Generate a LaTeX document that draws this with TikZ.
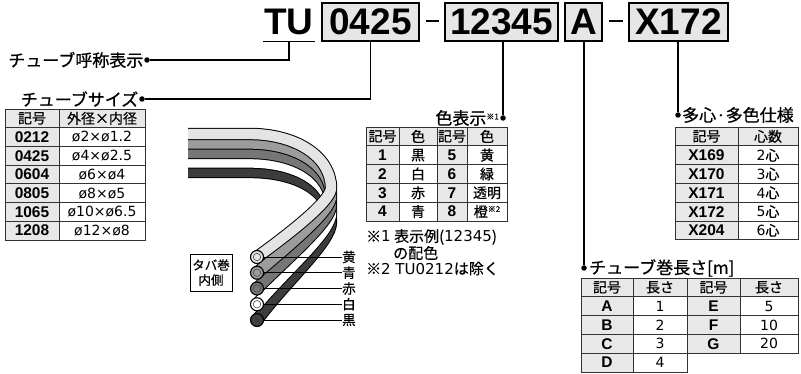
\documentclass[tikz,border=0pt]{standalone}
\usepackage{fontspec}
\setmainfont{Noto Sans CJK JP}
\newfontfamily\codefont{Liberation Sans}
\newfontfamily\numfont{DejaVu Sans}
\newfontfamily\jpH{Noto Sans CJK JP}[FakeBold=0.8]
\newfontfamily\jpT{Noto Sans CJK JP}[FakeBold=0.4]
\definecolor{boxgray}{HTML}{E6E6E6}
\definecolor{cellgray}{HTML}{E8E8E8}
\definecolor{gridc}{HTML}{333333}
\definecolor{tubeY}{HTML}{E4E4E4}
\definecolor{tubeB}{HTML}{9C9C9C}
\definecolor{tubeR}{HTML}{767676}
\definecolor{tubeK}{HTML}{3C3C3C}
\newcommand\tcell[7]{\node[#6, minimum width={(#3)-(#2)}, minimum height={(#5)-(#4)}] (#1) at ({((#2)+(#3))/2},{((#4)+(#5))/2}) {#7};}
\newcommand\supmark[1]{\raisebox{5pt}{\fontsize{8}{8}\selectfont #1}}
\newcommand\nm[1]{{\numfont #1}}
\tikzset{
 cellbase/.style={draw=gridc, line width=0.9pt, inner sep=0pt, outer sep=0pt, anchor=center},
 hdcell/.style={cellbase, fill=cellgray, font=\jpT\fontsize{14}{14}\selectfont},
 codecell/.style={cellbase, fill=cellgray, font=\codefont\bfseries\fontsize{15.5}{15.5}\selectfont},
 valcell/.style={cellbase, fill=white, font=\jpT\fontsize{14}{14}\selectfont},
 numcell/.style={cellbase, fill=white, font=\numfont\fontsize{14}{14}\selectfont},
 heading/.style={inner sep=0pt, font=\jpH\fontsize{17}{17}\selectfont},
 notetext/.style={inner sep=0pt, anchor=west, font=\jpT\fontsize{15}{15}\selectfont},
 jdot/.style={circle, fill=black, inner sep=0pt, minimum size=5.5pt},
 conn/.style={line width=1.1pt},
 tbox/.style={draw, line width=1.2pt, fill=boxgray, inner sep=0pt, minimum height=38pt, font=\codefont\bfseries\fontsize{37}{37}\selectfont},
 endc/.style={circle, draw=black, line width=1.1pt, inner sep=0pt, minimum size=13pt},
 borec/.style={circle, draw=black!70, line width=0.6pt, inner sep=0pt, minimum size=7.5pt},
 tubelab/.style={inner sep=0pt, anchor=west, font=\jpT\fontsize{13.5}{13.5}\selectfont},
 tagbox/.style={draw, line width=0.7pt, inner sep=0pt, minimum width=42pt, minimum height=37pt, align=center, font=\jpT\fontsize{12.5}{15}\selectfont},
}
\begin{document}
\begin{tikzpicture}[x=1pt,y=-1pt]
\useasboundingbox (0,0) rectangle (801,374);

% ---------- title ----------
\node[tbox, draw=none, fill=none, minimum width=50pt] (TU) at (289,22) {TU};
\draw[line width=1.6pt] (TU.south west) -- (TU.south east);
\node[tbox, minimum width=97pt] (b0425) at (370.5,22) {0425};
\node[tbox, minimum width=113pt] (b12345) at (501.5,22) {12345};
\node[tbox, minimum width=37pt] (bA) at (583.5,22) {A};
\node[tbox, minimum width=99pt] (bX) at (678.5,22) {X172};
\draw[line width=2pt] (b0425.east) ++(6,-1) -- ++(13,0);
\draw[line width=2pt] (bA.east) ++(6,-1) -- ++(14,0);

% ---------- connectors and headings ----------
\node[jdot] (d1) at (147,60) {};
\draw[conn] (TU.south) |- (d1);
\node[heading, anchor=east] (h1) at (143.5,60) {チューブ呼称表示};

\node[jdot] (d2) at (142,99) {};
\draw[conn] (b0425.south) |- (d2);
\node[heading, anchor=east] (h2) at (138.5,99) {チューブサイズ};

\node[jdot] (d3) at (503,118) {};
\draw[conn] (d3 |- b12345.south) -- (d3);
\node[heading, anchor=east] (h3) at (499,118) {色表示\supmark{※1}};

\node[jdot] (d4) at (584,268) {};
\draw[conn] (d4 |- bA.south) -- (d4);
\node[heading, anchor=west] (h4) at (589,268) {チューブ巻長さ[m]};

\node[jdot] (d5) at (678,115) {};
\draw[conn] (d5 |- bX.south) -- (d5);
\node[heading, anchor=west] (h5) at (682,115) {多心·多色仕様};

% ---------- tube size table ----------
\tcell{sz-0-1}{5}{59}{109}{127.71}{hdcell}{記号}
\tcell{sz-0-2}{59}{145}{109}{127.71}{hdcell}{外径×内径}
\foreach \c/\v [count=\k] in {0212/ø2×ø1.2, 0425/ø4×ø2.5, 0604/ø6×ø4, 0805/ø8×ø5, 1065/ø10×ø6.5, 1208/ø12×ø8}{
  \pgfmathsetmacro\ya{109+18.714*\k}
  \pgfmathsetmacro\yb{\ya+18.714}
  \tcell{sz-\k-1}{5}{59}{\ya}{\yb}{codecell}{\c}
  \tcell{sz-\k-2}{59}{145}{\ya}{\yb}{numcell}{\v}
}

% ---------- colour table ----------
\tcell{co-0-1}{366}{399}{127}{145.8}{hdcell}{記号}
\tcell{co-0-2}{399}{437}{127}{145.8}{hdcell}{色}
\tcell{co-0-3}{437}{467}{127}{145.8}{hdcell}{記号}
\tcell{co-0-4}{467}{507}{127}{145.8}{hdcell}{色}
\foreach \a/\b/\c/\d [count=\k] in {1/黒/5/黄, 2/白/6/緑, 3/赤/7/透明, 4/青/8/{橙\supmark{※2}}}{
  \pgfmathsetmacro\ya{127+18.8*\k}
  \pgfmathsetmacro\yb{\ya+18.8}
  \tcell{co-\k-1}{366}{399}{\ya}{\yb}{codecell}{\a}
  \tcell{co-\k-2}{399}{437}{\ya}{\yb}{valcell}{\b}
  \tcell{co-\k-3}{437}{467}{\ya}{\yb}{codecell}{\c}
  \tcell{co-\k-4}{467}{507}{\ya}{\yb}{valcell}{\d}
}
\node[notetext] (n1) at (366,237) {※\nm{1} 表示例(\nm{12345})};
\node[notetext] (n2) at (393,253) {の配色};
\node[notetext] (n3) at (366,268.5) {※\nm{2 TU0212}は除く};

% ---------- multi-core table ----------
\tcell{mc-0-1}{675}{738}{127}{145.8}{hdcell}{記号}
\tcell{mc-0-2}{738}{798}{127}{145.8}{hdcell}{心数}
\foreach \a/\b [count=\k] in {X169/2, X170/3, X171/4, X172/5, X204/6}{
  \pgfmathsetmacro\ya{127+18.8*\k}
  \pgfmathsetmacro\yb{\ya+18.8}
  \tcell{mc-\k-1}{675}{738}{\ya}{\yb}{codecell}{\a}
  \tcell{mc-\k-2}{738}{798}{\ya}{\yb}{valcell}{\nm{\b}心}
}

% ---------- length table ----------
\tcell{ln-0-1}{581}{633}{278}{296.8}{hdcell}{記号}
\tcell{ln-0-2}{633}{687}{278}{296.8}{hdcell}{長さ}
\tcell{ln-0-3}{687}{740}{278}{296.8}{hdcell}{記号}
\tcell{ln-0-4}{740}{798}{278}{296.8}{hdcell}{長さ}
\foreach \a/\b/\c/\d [count=\k] in {A/1/E/5, B/2/F/10, C/3/G/20}{
  \pgfmathsetmacro\ya{278+18.8*\k}
  \pgfmathsetmacro\yb{\ya+18.8}
  \tcell{ln-\k-1}{581}{633}{\ya}{\yb}{codecell}{\a}
  \tcell{ln-\k-2}{633}{687}{\ya}{\yb}{numcell}{\b}
  \tcell{ln-\k-3}{687}{740}{\ya}{\yb}{codecell}{\c}
  \tcell{ln-\k-4}{740}{798}{\ya}{\yb}{numcell}{\d}
}
\tcell{ln-4-1}{581}{633}{353.2}{372}{codecell}{D}
\tcell{ln-4-2}{633}{687}{353.2}{372}{numcell}{4}

% ---------- tubes ----------
\foreach \i/\col/\nmc in {4/tubeK/cK, 3/white/cW, 2/tubeR/cR, 1/tubeB/cB, 0/tubeY/cY}{
  \pgfmathsetmacro\yL{134+9.5*\i}
  \pgfmathsetmacro\yr{188+8.5*\i}
  \pgfmathsetmacro\yE{257+15.75*\i}
  \pgfmathsetmacro\ca{\yr-32}
  \pgfmathsetmacro\cb{\yr+12+2*\i}
  \pgfmathsetmacro\cx{297-2.5*\i}
  \pgfmathsetmacro\cy{\yE-29-2.75*\i}
  \draw[black, line width=12.4pt] (188,\yL) -- (250,\yL) .. controls (295,\yL) and (331,\ca) .. (331,\yr) .. controls (331,\cb) and (\cx,\cy) .. (257,\yE);
  \draw[\col, line width=10.4pt] (188,\yL) -- (250,\yL) .. controls (295,\yL) and (331,\ca) .. (331,\yr) .. controls (331,\cb) and (\cx,\cy) .. (257,\yE);
  \node[endc, fill=\col] (\nmc) at (257,\yE) {};
  \node[borec, fill=\col] (\nmc b) at (\nmc) {};
}
\foreach \nmc/\lb/\t/\y in {cY/lY/黄/257, cB/lB/青/272.75, cR/lR/赤/288.5, cW/lW/白/304.25, cK/lK/黒/320}{
  \node[tubelab] (\lb) at (342,\y) {\t};
  \draw[line width=0.8pt] (\nmc.east) -- (\lb.west);
}
\node[tagbox] (tag) at (211,272.5) {タバ巻\\内側};
\end{tikzpicture}
\end{document}
